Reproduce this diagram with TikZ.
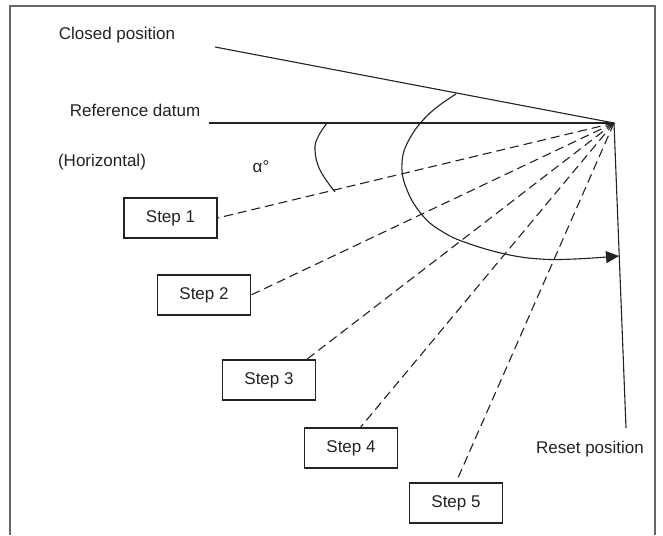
\documentclass[tikz,border=0pt]{standalone}
\usepackage{fontspec}
\setmainfont{Liberation Sans}
\usetikzlibrary{arrows.meta,calc}
\definecolor{ink}{HTML}{222222}
\definecolor{frame}{HTML}{666666}
\begin{document}
\begin{tikzpicture}[x=1pt,y=-1pt,
  every node/.style={font=\fontsize{17}{20}\selectfont, text=ink},
  stepbox/.style={draw=ink, line width=1.1pt, minimum width=93pt, minimum height=40pt, inner sep=0pt},
  solidline/.style={draw=ink, line width=1.1pt},
  dashline/.style={draw=ink, line width=1.1pt, dash pattern=on 9pt off 5pt},
  lbl/.style={inner sep=0pt}]
\useasboundingbox (0,0) rectangle (663,535);
\draw[frame, line width=2pt] (10,535) -- (10,6) -- (655,6) -- (655,535);

\coordinate (P) at (614,123);
\coordinate (C) at (215,47);
\coordinate (R) at (209,123);
\coordinate (E) at (626,428);

\node[lbl] (tclosed) at (117,35) {Closed position};
\node[lbl] (tref) at (135,110) {Reference datum};
\node[lbl] (thor) at (102,162) {(Horizontal)};
\node[lbl] (talpha) at (261,167) {α°};
\node[lbl] (treset) at (590,449) {Reset position};

\node[stepbox] (s1) at (170.5,218) {Step 1};
\node[stepbox] (s2) at (204,295) {Step 2};
\node[stepbox] (s3) at (269,380) {Step 3};
\node[stepbox] (s4) at (351,448) {Step 4};
\node[stepbox] (s5) at (456,503) {Step 5};

\draw[solidline] (C) -- (P);
\draw[solidline] (R) -- (P);
\draw[solidline] (P) -- (E);

\draw[dashline] (P) -- (s1.east);
\draw[dashline] (P) -- (s2.east);
\draw[dashline] (P) -- ($(s3.north)!0.8!(s3.north east)$);
\draw[dashline] (P) -- ($(s4.north)!0.2!(s4.north east)$);
\draw[dashline] (P) -- (s5.north);

\draw[solidline] plot[smooth, tension=0.7] coordinates {(327,123) (318,137) (315,150) (320,170) (335,192)};
\draw[solidline, -{Triangle[length=13pt,width=12pt]}] plot[smooth, tension=0.7] coordinates {(456,94) (430,113) (410,138) (402,163) (407,190) (423,216) (443,232) (467,243) (505,254) (540,259) (575,259) (619,256)};
\end{tikzpicture}
\end{document}
